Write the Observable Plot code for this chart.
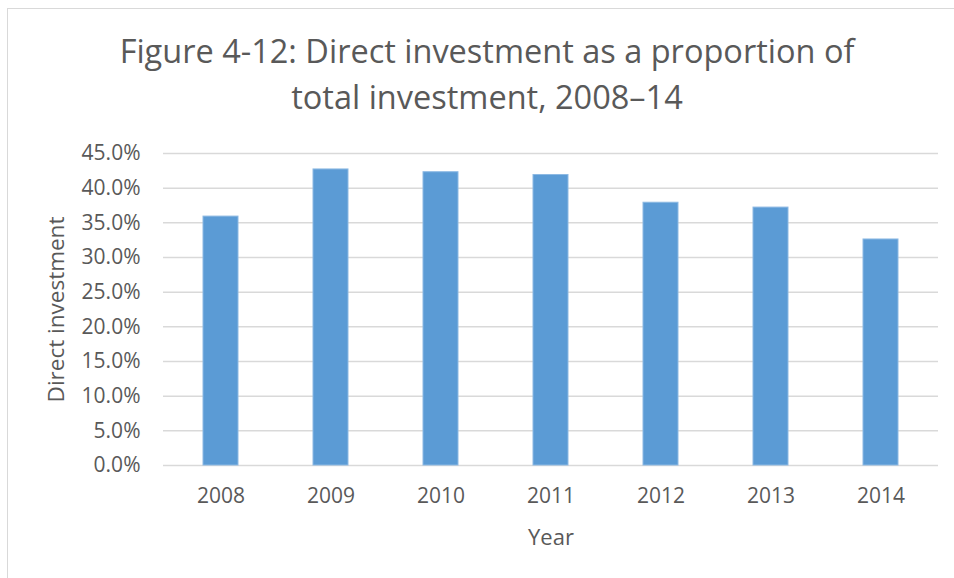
<!DOCTYPE html>
<html>
<head>
<meta charset="utf-8">
<script src="https://cdn.jsdelivr.net/npm/d3@7"></script>
<script src="https://cdn.jsdelivr.net/npm/@observablehq/plot@0.6"></script>
<style>
  html, body { margin: 0; padding: 0; background: #fff; width: 954px; height: 578px; overflow: hidden; }
  body { position: relative; font-family: "Open Sans", sans-serif; }
  #frame { position: absolute; left: 7px; top: 8px; width: 2000px; height: 2000px;
           border-left: 1.5px solid #D9D9D9; border-top: 1.5px solid #D9D9D9; pointer-events: none; }
  #title { position: relative; width: 974px; height: 107px; padding-top: 28px; text-align: center;
           font-size: 32.5px; line-height: 46px; color: #595959; white-space: nowrap; }
  #chart { position: relative; }
  #chart svg { display: block; }
</style>
</head>
<body>
<div id="frame"></div>
<div id="title">Figure 4-12: Direct investment as a proportion of<br>total investment, 2008–14</div>
<div id="chart"></div>
<script>
const years = ["2008", "2009", "2010", "2011", "2012", "2013", "2014"];
const shares = [35.9, 42.7, 42.3, 41.9, 37.9, 37.2, 32.6];
const yTicks = [0, 5, 10, 15, 20, 25, 30, 35, 40, 45];
const xLabel = "Year";
const yLabel = "Direct investment";

const data = years.map((year, i) => ({year, share: shares[i]}));

const chart = Plot.plot({
  width: 954,
  height: 443,
  marginTop: 18,
  marginBottom: 113,
  marginLeft: 163,
  marginRight: 16,
  style: {fontFamily: "'Open Sans', sans-serif", fontSize: "21px", color: "#595959", background: "transparent"},
  x: {domain: years, paddingInner: 0.684, paddingOuter: 0.342, align: 0.5, label: null},
  y: {domain: [0, 45], label: null},
  marks: [
    Plot.gridY(yTicks, {stroke: "#D9D9D9", strokeOpacity: 1, strokeWidth: 1.5}),
    Plot.barY(data, {x: "year", y: "share", fill: "#5B9BD5", stroke: "#8DB9E3", strokeWidth: 1}),
    Plot.axisY(yTicks, {tickSize: 0, tickPadding: 23, tickFormat: d => d.toFixed(1) + "%", fill: "#595959", fontSize: 21, label: null}),
    Plot.axisX({tickSize: 0, tickPadding: 23, fill: "#595959", fontSize: 21, label: null}),
    Plot.text([xLabel], {frameAnchor: "bottom", lineAnchor: "middle", dy: 72, fill: "#595959", fontSize: 22}),
    Plot.text([yLabel], {frameAnchor: "left", textAnchor: "middle", lineAnchor: "middle", dx: -107, rotate: -90, fill: "#595959", fontSize: 22.5})
  ]
});
document.getElementById("chart").appendChild(chart);
</script>
</body>
</html>
